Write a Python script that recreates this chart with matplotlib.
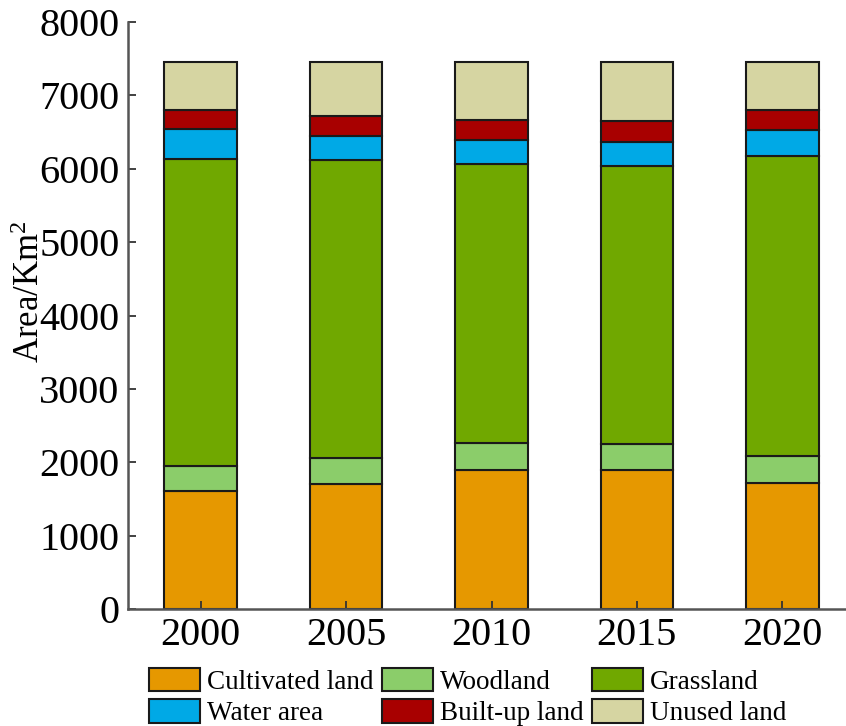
import numpy as np
import matplotlib
matplotlib.use('Agg')
import matplotlib.pyplot as plt

plt.rcParams['font.family'] = ['Liberation Serif', 'DejaVu Serif']
plt.rcParams['mathtext.fontset'] = 'custom'
plt.rcParams['mathtext.rm'] = 'Liberation Serif'
plt.rcParams['mathtext.it'] = 'Liberation Serif:italic'

# land-use area per class (km^2)
years = ['2000', '2005', '2010', '2015', '2020']
cultivated = [1608, 1699, 1899, 1890, 1721]
woodland   = [341, 363, 359, 363, 364]
grassland  = [4184, 4053, 3807, 3789, 4089]
water      = [413, 335, 327, 323, 350]
builtup    = [251, 269, 272, 286, 277]
unused     = [653, 731, 786, 799, 649]

classes = ['Cultivated land', 'Woodland', 'Grassland',
           'Water area', 'Built-up land', 'Unused land']
series = [cultivated, woodland, grassland, water, builtup, unused]
colors = ['#E69800', '#8BCD6A', '#70A800', '#00A9E6', '#A80000', '#D6D5A2']

fig = plt.figure(figsize=(8.46, 7.26), dpi=100)
ax = fig.add_axes([128 / 846, 117 / 726, 727 / 846, 587 / 726])

x = np.arange(len(years))
bottom = np.zeros(len(years))
handles = []
for name, vals, c in zip(classes, series, colors):
    h = ax.bar(x, vals, width=0.5, bottom=bottom, color=c,
               edgecolor='#1a1a1a', linewidth=1.5, label=name)
    handles.append(h)
    bottom += np.array(vals)

ax.set_xlim(-0.5, 4.5)
ax.set_ylim(0, 8000)
ax.set_yticks(np.arange(0, 8001, 1000))
ax.set_xticks(x)
ax.set_xticklabels(years)
ax.tick_params(axis='both', direction='in', length=6, width=1.3,
               color='#333333', labelsize=29, pad=6)
ax.set_ylabel(r'Area/Km$^{2}$', fontsize=25)
ax.yaxis.set_label_coords(-0.112, 0.54)

for s in ('top', 'right'):
    ax.spines[s].set_visible(False)
for s in ('left', 'bottom'):
    ax.spines[s].set_color('#555555')
    ax.spines[s].set_linewidth(1.8)

# legend is filled column by column, so reorder to read row by row
order = [0, 3, 1, 4, 2, 5]
fig.legend(handles=[handles[i] for i in order],
           labels=[classes[i] for i in order], loc='lower left',
           bbox_to_anchor=(138 / 846, -11 / 726), ncol=3, frameon=False,
           fontsize=19.5, handlelength=1.9, handleheight=0.95,
           handletextpad=0.25, columnspacing=0.3, labelspacing=0.15,
           borderaxespad=0)

fig.savefig('out.png', dpi=100)
